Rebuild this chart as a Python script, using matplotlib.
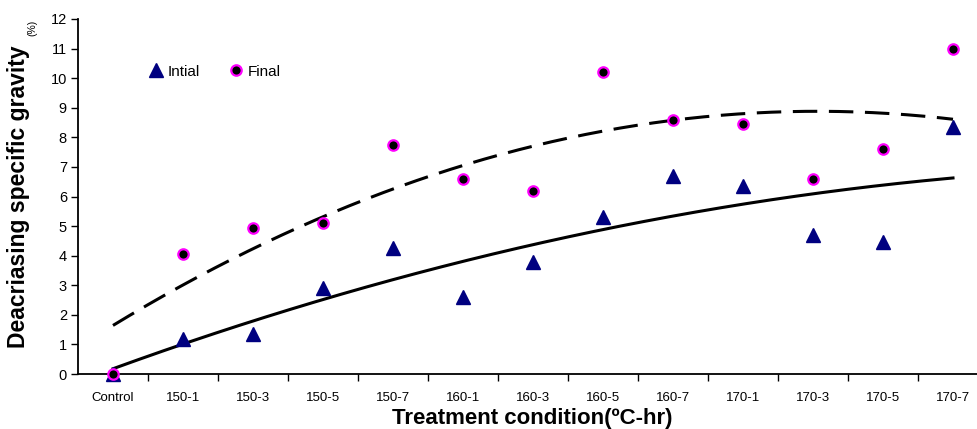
import numpy as np
import matplotlib
matplotlib.use("Agg")
import matplotlib.pyplot as plt

plt.rcParams['font.family'] = ['Liberation Sans', 'DejaVu Sans']

conditions = ["Control", "150-1", "150-3", "150-5", "150-7", "160-1", "160-3",
              "160-5", "160-7", "170-1", "170-3", "170-5", "170-7"]
initial = [0.0, 1.18, 1.35, 2.9, 4.25, 2.6, 3.8, 5.3, 6.7, 6.35, 4.7, 4.45, 8.35]
final = [0.0, 4.05, 4.95, 5.1, 7.75, 6.6, 6.2, 10.2, 8.6, 8.45, 6.6, 7.6, 11.0]

x = np.arange(len(conditions))
xs = np.linspace(0, len(conditions) - 1, 200)

fig = plt.figure(figsize=(9.78, 4.29), dpi=100)
ax = fig.add_axes([78 / 978, 1 - 374 / 429, 910 / 978, 355 / 429])

# polynomial trendlines (like Excel's)
p_init = np.polyfit(x + 1, initial, 2)
p_fin = np.polyfit(x + 1, final, 2)
ax.plot(xs, np.polyval(p_init, xs + 1), color="black", lw=2.2, zorder=2)
ax.plot(xs, np.polyval(p_fin, xs + 1), color="black", lw=2.2,
        dashes=(8, 3.8), zorder=2)

ax.plot(x, initial, linestyle="none", marker="^", ms=10, color="#000080",
        mec="#000080", label="Intial", zorder=3, clip_on=False)
ax.plot(x, final, linestyle="none", marker="o", ms=7.5, color="black",
        mec="#ff00ff", mew=1.6, label="Final", zorder=4, clip_on=False)

ax.set_xlim(-0.5, len(conditions) - 0.5)
ax.set_ylim(0, 12)
ax.set_yticks(range(0, 13))
ax.set_xticks(x)
ax.set_xticklabels(conditions, fontsize=9.5)
ax.set_xticks(np.arange(0.5, len(conditions) - 0.5), minor=True)
ax.tick_params(axis="x", which="major", length=0, pad=13)
ax.tick_params(axis="x", which="minor", length=5, width=1, direction="out")
ax.tick_params(axis="y", length=5, width=1, direction="out", labelsize=10.5, pad=3)

for side in ["top", "right"]:
    ax.spines[side].set_visible(False)
ax.spines["left"].set_linewidth(1.3)
ax.spines["bottom"].set_linewidth(1.3)

ax.set_ylabel("Deacriasing specific gravity", fontsize=16.5, fontweight="bold")
ax.yaxis.set_label_coords(-0.053, 0.5)
fig.text(0.033, 0.935, "(%)", rotation=90, fontsize=7.5, va="center", ha="center")

fig.text(532 / 978, 0.012, "Treatment condition(ºC-hr)", fontsize=16,
         fontweight="bold", ha="center", va="baseline")

ax.legend(loc="upper left", bbox_to_anchor=(0.06, 0.91), ncol=2, frameon=False,
          fontsize=11, handletextpad=0.2, columnspacing=1.75, handlelength=1.2)

fig.savefig("out.png", dpi=100)
